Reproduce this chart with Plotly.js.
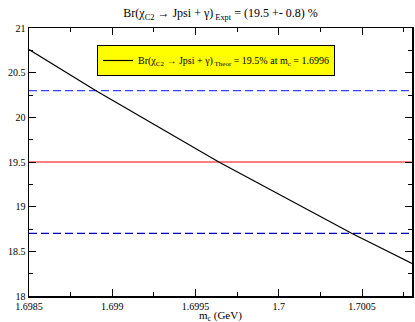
<!DOCTYPE html>
<html>
<head>
<meta charset="utf-8">
<script src="https://cdn.plot.ly/plotly-3.0.1.min.js"></script>
<style>html,body{margin:0;padding:0;background:#fff;}#chart{width:415px;height:322px;}</style>
</head>
<body>
<div id="chart"></div>
<script>
// Data
var mc = [1.6985, 1.6989, 1.69964, 1.70044, 1.7008];
var brTheor = [20.76, 20.3, 19.5, 18.7, 18.365];
var xRange = [1.6985, 1.7008];
var brExpt = 19.5;
var brUpper = 20.3;
var brLower = 18.7;
var xTickVals = [1.6985, 1.699, 1.6995, 1.7, 1.7005];
var xTickText = ["1.6985", "1.699", "1.6995", "1.7", "1.7005"];
var yTickVals = [18, 18.5, 19, 19.5, 20, 20.5, 21];
var yTickText = ["18", "18.5", "19", "19.5", "20", "20.5", "21"];

var serif = "Liberation Serif";

var traces = [
  {x: xRange, y: [brUpper, brUpper], mode: "lines", showlegend: false,
   line: {color: "#3344ff", width: 1.3, dash: "8px,4px"}, hoverinfo: "skip"},
  {x: xRange, y: [brLower, brLower], mode: "lines", showlegend: false,
   line: {color: "#0000b8", width: 1.3, dash: "8px,4px"}, hoverinfo: "skip"},
  {x: xRange, y: [brExpt, brExpt], mode: "lines", showlegend: false,
   line: {color: "#ff0000", width: 1}, hoverinfo: "skip"},
  {x: mc, y: brTheor, mode: "lines", showlegend: true,
   name: "Br(χ<sub>C2</sub> → Jpsi + γ)<sub> Theor</sub> = 19.5% at m<sub>c</sub> = 1.6996",
   line: {color: "#000000", width: 1.2}, hoverinfo: "skip"}
];

var layout = {
  width: 415, height: 322,
  margin: {l: 29, r: 3, t: 28, b: 26},
  paper_bgcolor: "#ffffff", plot_bgcolor: "#ffffff",
  font: {family: serif, size: 11, color: "#000"},
  title: {text: "Br(χ<sub>C2</sub> → Jpsi + γ)<sub> Expt</sub> = (19.5 +- 0.8) %",
          font: {family: serif, size: 12, color: "#000"},
          x: 0.5, xref: "paper", y: 0.96, yref: "container", yanchor: "middle"},
  xaxis: {range: xRange, tickvals: xTickVals, ticktext: xTickText,
          showgrid: false, zeroline: false, showline: true, linecolor: "#000", linewidth: 1.5,
          mirror: "allticks", ticks: "inside", ticklen: 7, tickwidth: 1, tickcolor: "#000",
          tickfont: {family: serif, size: 10}, ticklabelstandoff: 0,
          minor: {dtick: 0.00025, tick0: 1.6985, ticks: "inside", ticklen: 4, tickcolor: "#000", showgrid: false}},
  yaxis: {range: [18, 21], tickvals: yTickVals, ticktext: yTickText,
          showgrid: false, zeroline: false, showline: true, linecolor: "#000", linewidth: 1.5,
          mirror: "allticks", ticks: "inside", ticklen: 7, tickwidth: 1, tickcolor: "#000",
          tickfont: {family: serif, size: 10},
          minor: {dtick: 0.25, tick0: 18, ticks: "inside", ticklen: 4, tickcolor: "#000", showgrid: false}},
  annotations: [{text: "m<sub>c</sub> (GeV)", xref: "paper", yref: "paper", x: 0.5, y: -0.075,
                 xanchor: "center", yanchor: "middle", showarrow: false,
                 font: {family: serif, size: 11, color: "#000"}}],
  legend: {x: 0.1775, y: 0.9366, xanchor: "left", yanchor: "top",
           bgcolor: "#ffff00", bordercolor: "#000", borderwidth: 1,
           font: {family: serif, size: 10, color: "#000"}, itemwidth: 30},
  showlegend: true
};

Plotly.newPlot("chart", traces, layout, {staticPlot: true, displayModeBar: false});
</script>
</body>
</html>
